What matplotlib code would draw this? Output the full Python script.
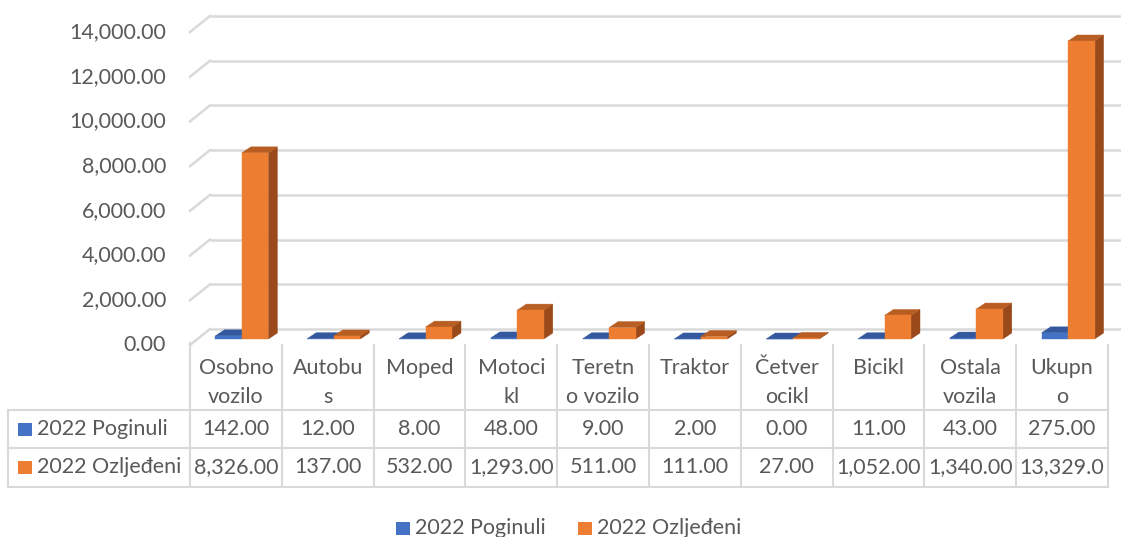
import matplotlib
matplotlib.use('Agg')
import matplotlib.pyplot as plt
from matplotlib.patches import Rectangle, Polygon

# ---------------- data ----------------
categories = ["Osobno\nvozilo", "Autobu\ns", "Moped", "Motoci\nkl", "Teretn\no vozilo",
              "Traktor", "Četver\nocikl", "Bicikl", "Ostala\nvozila", "Ukupn\no"]
poginuli = [142, 12, 8, 48, 9, 2, 0, 11, 43, 275]
ozljedeni = [8326, 137, 532, 1293, 511, 111, 27, 1052, 1340, 13329]
series_names = ["2022 Poginuli", "2022 Ozljeđeni"]
y_ticks = [0, 2000, 4000, 6000, 8000, 10000, 12000, 14000]

# ---------------- style ----------------
plt.rcParams['font.family'] = ['Lato', 'DejaVu Sans']
FS = 15.5
TXT = '#595959'
GRID = '#D9D9D9'
BLUE = ('#4472C4', '#33589E', '#29497F')     # front, top, side
ORANGE = ('#ED7D31', '#B85E22', '#99491A')

DPI = 100
W, H = 1121, 537
fig = plt.figure(figsize=(W / DPI, H / DPI), dpi=DPI)

# overlay in pixel coordinates (table, labels, legend)
ov = fig.add_axes([0, 0, 1, 1])
ov.set_xlim(0, W)
ov.set_ylim(H, 0)
ov.axis('off')

# chart axes = front plane of the 3D box
PL, PR, Y0, YT = 190, 1108, 345, 32
ax = fig.add_axes([PL / W, (H - Y0) / H, (PR - PL) / W, (Y0 - YT) / H])
ax.set_xlim(-0.5, len(categories) - 0.5)
ax.set_ylim(0, y_ticks[-1])
ax.axis('off')

ppx = (PR - PL) / len(categories)
ppy = (Y0 - YT) / y_ticks[-1]


def dx(p):
    return p / ppx


def dy(p):
    return p / ppy


# back wall gridlines + left wall diagonals
WDX, WDY = 20, 16
for t in y_ticks:
    ax.plot([-0.5 + dx(WDX), len(categories) - 0.5 + dx(14)], [t + dy(WDY)] * 2,
            color=GRID, lw=1.8, clip_on=False, zorder=1, solid_capstyle='butt')
    ax.plot([-0.5, -0.5 + dx(WDX)], [t, t + dy(WDY)],
            color=GRID, lw=1.8, clip_on=False, zorder=1)

# bars
FX, FY = 6, 6     # front-face offset (px)
DX, DY = 9, 6     # bar depth (px)
bw = 26.5 / ppx


def draw_series(vals, xoff, cols, z):
    xs = [i + xoff + dx(FX) for i in range(len(vals))]
    base = dy(FY)
    for x0, v in zip(xs, vals):
        x1 = x0 + bw
        y1 = base + v
        ax.add_patch(Polygon([(x1, base), (x1 + dx(DX), base + dy(DY)),
                              (x1 + dx(DX), y1 + dy(DY)), (x1, y1)],
                             closed=True, fc=cols[2], ec=cols[2], lw=0.3,
                             clip_on=False, zorder=z))
        ax.add_patch(Polygon([(x0, y1), (x1, y1), (x1 + dx(DX), y1 + dy(DY)),
                              (x0 + dx(DX), y1 + dy(DY))],
                             closed=True, fc=cols[1], ec=cols[1], lw=0.3,
                             clip_on=False, zorder=z))
    ax.bar(xs, vals, width=bw, bottom=base, align='edge', color=cols[0],
           edgecolor=cols[0], linewidth=0.3, clip_on=False, zorder=z + 0.5)


draw_series(poginuli, -bw, BLUE, 3)
draw_series(ozljedeni, 0, ORANGE, 5)

# y tick labels
for t in y_ticks:
    ov.text(166, Y0 - t * ppy, f"{t:,.2f}", ha='right', va='center',
            fontsize=FS, color=TXT)

# ---------------- data table ----------------
TL = 8
ROWS = [410, 448, 487]
for yl in ROWS:
    ov.plot([TL, PR], [yl, yl], color=GRID, lw=1.5, solid_capstyle='projecting')
ov.plot([TL, TL], [ROWS[0], ROWS[-1]], color=GRID, lw=1.5)
for k in range(len(categories) + 1):
    xk = PL + k * ppx
    ov.plot([xk, xk], [343 if k == 0 else 345, ROWS[-1]], color=GRID, lw=1.5)

for i, c in enumerate(categories):
    cx = PL + (i + 0.5) * ppx
    for j, line in enumerate(c.split("\n")):
        ov.text(cx, 368 + 29 * j, line, ha='center', va='center',
                fontsize=FS, color=TXT)

row_y = [429, 467]
for vals, name, cols, ry in zip([poginuli, ozljedeni], series_names,
                                [BLUE, ORANGE], row_y):
    ov.add_patch(Rectangle((18, ry - 6.5), 14, 13, fc=cols[0], ec='none'))
    ov.text(37, ry, name, ha='left', va='center', fontsize=FS, color=TXT)
    for i, v in enumerate(vals):
        s = f"{v:,.2f}"
        if len(s) > 8:          # cell too narrow: Excel cuts the text
            s = s[:8]
        ov.text(PL + (i + 0.5) * ppx, ry, s, ha='center', va='center',
                fontsize=FS, color=TXT)

# ---------------- legend ----------------
for (sx, tx), name, cols in zip([(396, 415), (578, 597)], series_names, [BLUE, ORANGE]):
    ov.add_patch(Rectangle((sx, 522), 14, 13, fc=cols[0], ec='none'))
    ov.text(tx, 528, name, ha='left', va='center', fontsize=FS, color=TXT)

fig.savefig('out.png', dpi=DPI)
